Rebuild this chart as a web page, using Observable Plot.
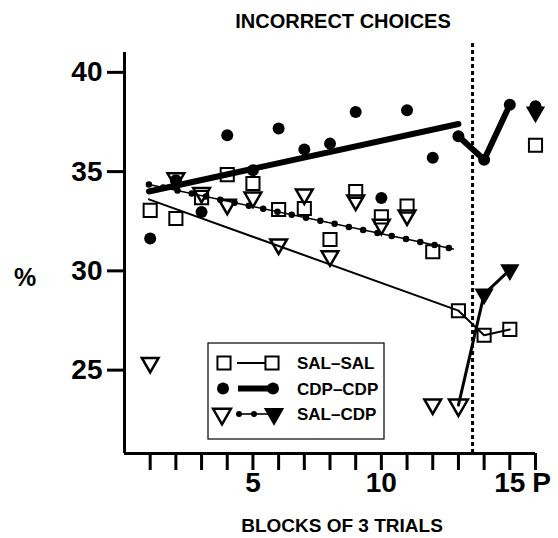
<!DOCTYPE html>
<html><head><meta charset="utf-8">
<script src="https://cdn.jsdelivr.net/npm/d3@7"></script>
<script src="https://cdn.jsdelivr.net/npm/@observablehq/plot@0.6"></script>
<style>body{margin:0;background:#fff}#chart{width:558px;height:538px}</style>
</head><body><div id="chart"></div>
<script>
// ---- data ----
const blocks = [1,2,3,4,5,6,7,8,9,10,11,12,13,14,15];
const salSal = [33.05,32.64,33.69,34.85,34.4,33.09,33.14,31.58,34.0,32.72,33.26,30.96,27.99,26.76,27.05];
const cdpCdp = [31.63,34.57,32.97,36.83,35.07,37.17,36.12,36.41,38.0,33.67,38.09,35.7,36.78,35.6,38.37];
const salCdp = [25.37,34.67,33.93,33.34,33.7,31.34,33.86,30.74,33.55,32.33,32.8,23.28,23.24,28.83,30.05];
const pBlock = 16;
const salSalP = 36.33, cdpCdpP = 38.29, salCdpP = 38.0;
const preShiftLast = 13;           // open symbols up to here; filled triangles after for SAL-CDP
const fitSalSalX = [0.95, 13], fitSalSalY = [33.6, 28.0];
const fitCdpCdpX = [0.95, 13], fitCdpCdpY = [34.0, 37.4];
const fitSalCdpX = [0.95, 12.8], fitSalCdpY = [34.35, 31.1];
const shiftX = 13.55;
const yTicks = [25,30,35,40];
const xTickLabels = [5,10,15];
const xTickP = [16];
const pLabel = "P";
const seriesNames = ["SAL\u2013SAL","CDP\u2013CDP","SAL\u2013CDP"];
const yDomain = [20.8, 41];

// ---- tables ----
const rows = (ys) => blocks.map((b,i)=>({x:b, y:ys[i]}));
const ssRows = rows(salSal).concat([{x:pBlock,y:salSalP}]);
const ccRows = rows(cdpCdp).concat([{x:pBlock,y:cdpCdpP}]);
const scAll = rows(salCdp);
const scOpen = scAll.filter(d=>d.x<preShiftLast);
const scShift = scAll.filter(d=>d.x===preShiftLast);
const scFilled = scAll.filter(d=>d.x>preShiftLast).concat([{x:pBlock,y:salCdpP}]);
const post = (r)=> r.filter(d=>d.x>=preShiftLast && d.x<=15);
const fit = (xs,ys)=> xs.map((x,i)=>({x, y:ys[i]}));

const triDown = { draw(ctx, size){ const y = -Math.sqrt(size/(Math.sqrt(3)*3)); const s = Math.sqrt(3);
  ctx.moveTo(0,-2*y); ctx.lineTo(-s*y, y); ctx.lineTo(s*y, y); ctx.closePath(); } };

const FONT = "'Liberation Sans', Arial, Helvetica, sans-serif";
const W = 558, H = 538;
const chart = Plot.plot({
  width: W, height: H,
  marginLeft: 124, marginRight: 23, marginTop: 52, marginBottom: 85,
  style: {fontFamily: FONT, background: "white", color: "black", overflow: "visible"},
  x: {domain: [0, 16]},
  y: {domain: yDomain},
  marks: [
    Plot.ruleX([shiftX], {y1: yDomain[0], y2: 41.45, stroke: "black", strokeWidth: 3, strokeDasharray: "4,3"}),
    Plot.axisY({ticks: yTicks, tickSize: 17, tickPadding: 5, strokeWidth: 3, fontSize: 28, fontWeight: "bold", label: null}),
    Plot.axisX({ticks: d3.range(1,17), tickSize: 17, strokeWidth: 3, tickFormat: () => "", label: null}),
    Plot.axisX({ticks: xTickLabels, tickSize: 0, tickPadding: 19, fontSize: 28, fontWeight: "bold", label: null}),
    Plot.axisX({ticks: xTickP, tickSize: 0, tickPadding: 19, dx: 6, tickFormat: () => pLabel, fontSize: 28, fontWeight: "bold", label: null}),
    Plot.ruleX([0], {stroke: "black", strokeWidth: 3}),
    Plot.ruleY([yDomain[0]], {stroke: "black", strokeWidth: 3}),
    // regression lines
    Plot.line(fit(fitSalSalX, fitSalSalY), {x:"x", y:"y", stroke:"black", strokeWidth: 2}),
    Plot.line(fit(fitCdpCdpX, fitCdpCdpY), {x:"x", y:"y", stroke:"black", strokeWidth: 6}),
    Plot.line(fit(fitSalCdpX, fitSalCdpY), {x:"x", y:"y", stroke:"black", strokeWidth: 1.6}),
    Plot.line(fit(fitSalCdpX, fitSalCdpY), {x:"x", y:"y", stroke:"black", strokeWidth: 6.5, strokeDasharray: "0,14.6", strokeLinecap: "round"}),
    // post-shift connecting lines
    Plot.line(post(ssRows), {x:"x", y:"y", stroke:"black", strokeWidth: 2}),
    Plot.line(post(ccRows), {x:"x", y:"y", stroke:"black", strokeWidth: 6}),
    Plot.line(post(scAll), {x:"x", y:"y", stroke:"black", strokeWidth: 3}),
    // points
    Plot.dot(ssRows, {x:"x", y:"y", r: 7.4, symbol: "square", fill: "none", stroke: "black", strokeWidth: 2}),
    Plot.dot(scOpen, {x:"x", y:"y", r: 6.2, symbol: triDown, fill: "none", stroke: "black", strokeWidth: 2.5}),
    Plot.dot(scShift, {x:"x", y:"y", r: 7, symbol: triDown, fill: "none", stroke: "black", strokeWidth: 2.5}),
    Plot.dot(scFilled, {x:"x", y:"y", r: 6.2, symbol: triDown, fill: "black", stroke: "black", strokeWidth: 1.5}),
    Plot.dot(ccRows, {x:"x", y:"y", r: 6, fill: "black", symbol: "circle"})
  ]
});
document.getElementById("chart").appendChild(chart);

const svg = d3.select(chart);
const txt = (x,y,s,size,anchor="middle") => svg.append("text").attr("x",x).attr("y",y)
  .attr("text-anchor",anchor).attr("font-family",FONT).attr("font-weight","bold")
  .attr("font-size",size).attr("fill","black").text(s);
txt(343, 28, "INCORRECT CHOICES", 20);
txt(25, 286, "%", 25);
txt(342, 532, "BLOCKS OF 3 TRIALS", 19);

// legend
const lg = svg.append("g");
lg.append("rect").attr("x",208).attr("y",343).attr("width",176).attr("height",96)
  .attr("fill","white").attr("stroke","black").attr("stroke-width",1.2);
const rowsY = [363, 388.5, 414];
const sym = (type, r) => d3.symbol(type, r*r*Math.PI)();
// row 1
lg.append("path").attr("d", sym(d3.symbolSquare, 7.4)).attr("transform",`translate(224,${rowsY[0]})`).attr("fill","none").attr("stroke","black").attr("stroke-width",2);
lg.append("line").attr("x1",237).attr("x2",266).attr("y1",rowsY[0]).attr("y2",rowsY[0]).attr("stroke","black").attr("stroke-width",2);
lg.append("path").attr("d", sym(d3.symbolSquare, 7.4)).attr("transform",`translate(272,${rowsY[0]})`).attr("fill","none").attr("stroke","black").attr("stroke-width",2);
// row 2
lg.append("circle").attr("cx",223).attr("cy",rowsY[1]).attr("r",6).attr("fill","black");
lg.append("line").attr("x1",238).attr("x2",272).attr("y1",rowsY[1]).attr("y2",rowsY[1]).attr("stroke","black").attr("stroke-width",6);
lg.append("circle").attr("cx",273).attr("cy",rowsY[1]).attr("r",6).attr("fill","black");
// row 3
lg.append("path").attr("d", sym(triDown, 6.6)).attr("transform",`translate(222,${rowsY[2]})`).attr("fill","none").attr("stroke","black").attr("stroke-width",2.5);
lg.append("line").attr("x1",238).attr("x2",270).attr("y1",rowsY[2]).attr("y2",rowsY[2]).attr("stroke","black").attr("stroke-width",1.6);
[239,254].forEach(cx=>lg.append("circle").attr("cx",cx).attr("cy",rowsY[2]).attr("r",3).attr("fill","black"));
lg.append("path").attr("d", sym(triDown, 6.6)).attr("transform",`translate(274,${rowsY[2]})`).attr("fill","black").attr("stroke","black").attr("stroke-width",1.5);
seriesNames.forEach((s,i)=> txt(297, rowsY[i]+6, s, 17, "start"));
</script>
</body></html>
